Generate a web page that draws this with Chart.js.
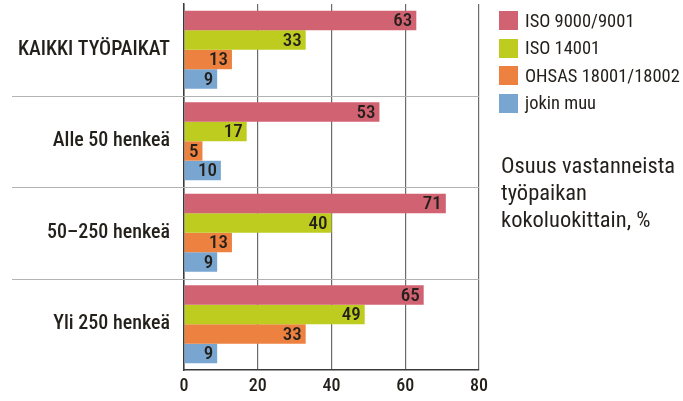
<!DOCTYPE html>
<html>
<head>
<meta charset="utf-8">
<script src="https://cdn.jsdelivr.net/npm/chart.js@4"></script>
<style>
  body { margin: 0; background: #fff; }
  #wrap { position: relative; width: 683px; height: 401px; }
  #legend { position: absolute; left: 499px; top: 11px; font-family: 'Roboto Condensed', sans-serif; font-size: 18.5px; font-weight: 400; color: #231f1a; }
  #legend .row { display: flex; align-items: center; height: 19px; margin-bottom: 8.5px; white-space: nowrap; }
  #legend .box { width: 19px; height: 19px; margin-right: 7px; flex: none; }
  #note { position: absolute; left: 501px; top: 152px; font-family: 'Roboto Condensed', sans-serif; font-size: 22.5px; font-weight: 400; line-height: 27px; color: #231f1a; white-space: nowrap; }
</style>
</head>
<body>
<div id="wrap">
  <canvas id="chart" width="683" height="401"></canvas>
  <div id="legend"></div>
  <div id="note">Osuus vastanneista<br>työpaikan<br>kokoluokittain, %</div>
</div>
<script>
const categories = ['KAIKKI TYÖPAIKAT', 'Alle 50 henkeä', '50–250 henkeä', 'Yli 250 henkeä'];
const seriesNames = ['ISO 9000/9001', 'ISO 14001', 'OHSAS 18001/18002', 'jokin muu'];
const iso9000 = [63, 53, 71, 65];
const iso14001 = [33, 17, 40, 49];
const ohsas = [13, 5, 13, 33];
const jokinMuu = [9, 10, 9, 9];
const xTicks = [0, 20, 40, 60, 80];

const colors = ['#d16272', '#bdcc1f', '#ec8140', '#79a6d1'];
const fontFamily = "'Roboto Condensed', sans-serif";
const textColor = '#231f1a';

// legend as html
const legendEl = document.getElementById('legend');
seriesNames.forEach((name, i) => {
    const row = document.createElement('div');
    row.className = 'row';
    row.innerHTML = '<div class="box" style="background:' + colors[i] + '"></div><span>' + name + '</span>';
    legendEl.appendChild(row);
});

// light separators between the size classes
const separators = {
    id: 'separators',
    beforeDatasetsDraw(chart) {
        const ctx = chart.ctx;
        const y = chart.scales.y;
        ctx.save();
        ctx.strokeStyle = '#b3b3b3';
        ctx.lineWidth = 1;
        for (let i = 0; i < categories.length - 1; i++) {
            const py = Math.round((y.getPixelForValue(i) + y.getPixelForValue(i + 1)) / 2) + 0.5;
            ctx.beginPath();
            ctx.moveTo(12, py);
            ctx.lineTo(chart.chartArea.right, py);
            ctx.stroke();
        }
        ctx.restore();
    },
};

// value labels at the inner end of each bar
const barLabels = {
    id: 'barLabels',
    afterDatasetsDraw(chart) {
        const ctx = chart.ctx;
        ctx.save();
        ctx.font = '500 19px ' + fontFamily;
        ctx.fillStyle = textColor;
        ctx.textAlign = 'right';
        ctx.textBaseline = 'middle';
        chart.data.datasets.forEach((ds, di) => {
            chart.getDatasetMeta(di).data.forEach((bar, i) => {
                ctx.fillText(String(ds.data[i]), bar.x - 4, bar.y + 1);
            });
        });
        ctx.restore();
    },
};

const seriesData = [iso9000, iso14001, ohsas, jokinMuu];

function draw() {
    new Chart(document.getElementById('chart'), {
        type: 'bar',
        data: {
            labels: categories,
            datasets: seriesNames.map((name, i) => ({
                label: name,
                data: seriesData[i],
                backgroundColor: colors[i],
                barPercentage: 1,
                categoryPercentage: 0.85,
            })),
        },
        options: {
            indexAxis: 'y',
            responsive: false,
            animation: false,
            layout: { padding: { top: 4, right: 204, left: 0, bottom: 0 } },
            plugins: { legend: { display: false }, tooltip: { enabled: false } },
            scales: {
                x: {
                    min: 0,
                    max: 80,
                    afterBuildTicks: s => { s.ticks = xTicks.map(v => ({ value: v })); },
                    afterFit: s => { s.height = 31; s.paddingLeft = 0; s.paddingRight = 0; },
                    ticks: { color: textColor, font: { family: fontFamily, size: 18, weight: 500 }, padding: 6 },
                    grid: { color: '#6b6b6b', lineWidth: 1.2, drawTicks: false },
                    border: { display: true, color: '#3a3a3a', width: 1.5 },
                },
                y: {
                    afterFit: s => { s.width = 184; s.paddingTop = 0; s.paddingBottom = 0; },
                    ticks: { color: textColor, font: { family: fontFamily, size: 20, weight: 500 }, padding: 14 },
                    grid: { display: false, drawTicks: false },
                    border: { display: true, color: '#3a3a3a', width: 1.5 },
                },
            },
        },
        plugins: [separators, barLabels],
    });
}

// make sure the condensed face is ready before the canvas uses it
Promise.all([
    document.fonts.load("19px 'Roboto Condensed'"),
    document.fonts.load("500 19px 'Roboto Condensed'"),
    document.fonts.load("bold 19px 'Roboto Condensed'"),
]).then(draw, draw);
</script>
</body>
</html>
